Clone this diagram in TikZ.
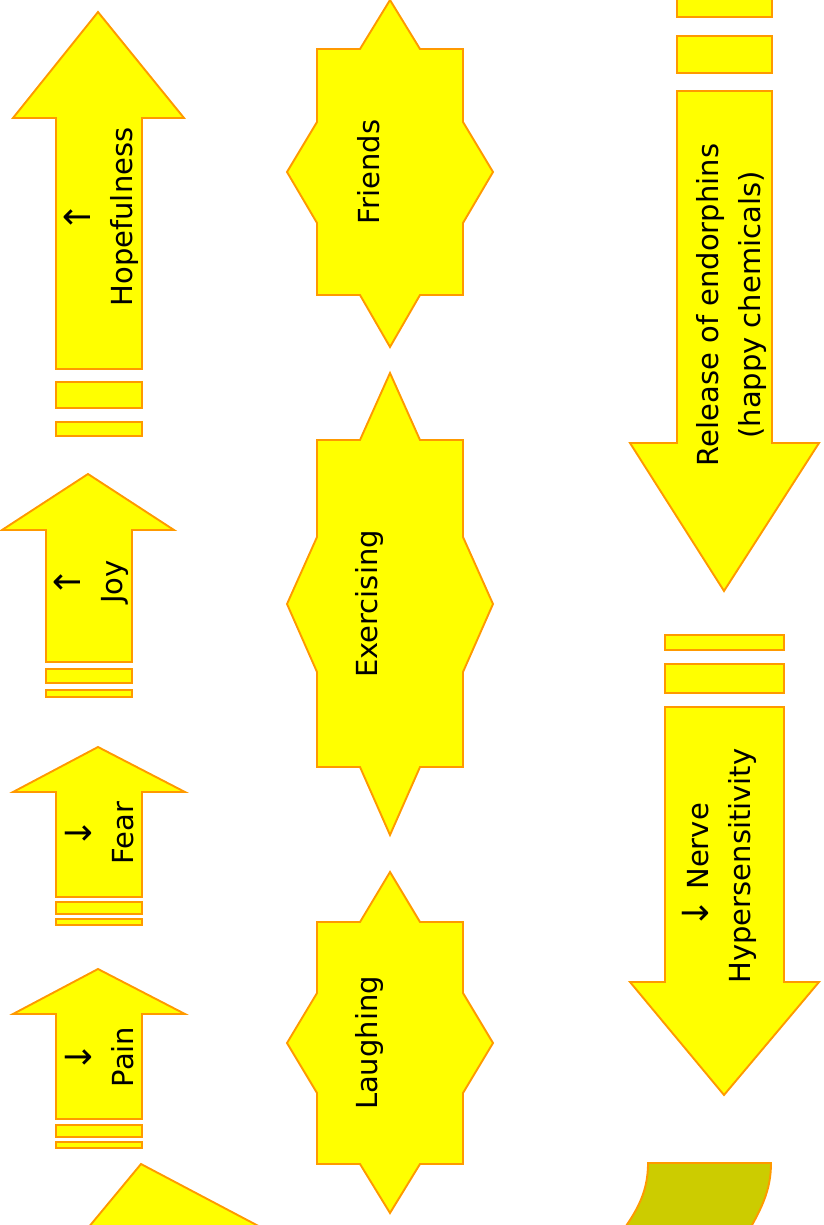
\documentclass[tikz,border=0pt]{standalone}
\usepackage{fontspec}
\setmainfont{DejaVu Sans}
\definecolor{yel}{HTML}{FFFF00}
\definecolor{org}{HTML}{FF9900}
\definecolor{olive}{HTML}{CCCC00}
\newcommand{\bigup}{{\fontsize{36}{40}\selectfont ↑}}
\newcommand{\bigdown}{{\fontsize{36}{40}\selectfont ↓}}
\tikzset{
  shp/.style={fill=yel, draw=org, line width=1.9pt, line join=miter},
  oshp/.style={fill=olive, draw=org, line width=1.9pt},
  txt/.style={rotate=90, align=center, inner sep=0pt, text=black,
    font=\fontsize{29}{42}\selectfont}
}
\begin{document}
\begin{tikzpicture}[x=1pt,y=-1pt]
\useasboundingbox (0,0) rectangle (823,1225);
% ---------- left column: up arrows ----------
% Hopefulness
\draw[shp] (98,12) -- (184,118) -- (142,118) -- (142,369) -- (56,369) -- (56,118) -- (13,118) -- cycle;
\draw[shp] (56,382) rectangle (142,408);
\draw[shp] (56,422) rectangle (142,436);
\node[txt] (hope) at (101,217) {\bigup\\Hopefulness};
% Joy
\draw[shp] (88,474) -- (174,530) -- (132,530) -- (132,662) -- (46,662) -- (46,530) -- (2,530) -- cycle;
\draw[shp] (46,669) rectangle (132,683);
\draw[shp] (46,690) rectangle (132,697);
\node[txt] (joy) at (91,582) {\bigup\\Joy};
% Fear
\draw[shp] (98,747) -- (185,792) -- (142,792) -- (142,897) -- (56,897) -- (56,792) -- (13,792) -- cycle;
\draw[shp] (56,902) rectangle (142,914);
\draw[shp] (56,919) rectangle (142,925);
\node[txt] (fear) at (100,833) {\bigdown\\Fear};
% Pain
\draw[shp] (98,969) -- (185,1014) -- (142,1014) -- (142,1119) -- (56,1119) -- (56,1014) -- (13,1014) -- cycle;
\draw[shp] (56,1125) rectangle (142,1137);
\draw[shp] (56,1142) rectangle (142,1148);
\node[txt] (pain) at (100,1057) {\bigdown\\Pain};
% partial triangle bottom left
\draw[shp] (141,1164) -- (285,1240) -- (78,1240) -- cycle;
% ---------- middle column: stars ----------
% Friends
\draw[shp] (390,0) -- (420,49) -- (463,49) -- (463,122) -- (493,172) -- (463,223) -- (463,295) -- (420,295) -- (390,347) -- (360,295) -- (317,295) -- (317,223) -- (287,172) -- (317,122) -- (317,49) -- (360,49) -- cycle;
\node[txt] (friends) at (369,172) {Friends};
% Exercising
\draw[shp] (390,373) -- (420,440) -- (463,440) -- (463,537) -- (493,604) -- (463,672) -- (463,767) -- (420,767) -- (390,835) -- (360,767) -- (317,767) -- (317,672) -- (287,604) -- (317,537) -- (317,440) -- (360,440) -- cycle;
\node[txt] (exer) at (369,604) {Exercising};
% Laughing
\draw[shp] (390,872) -- (420,922) -- (463,922) -- (463,993) -- (493,1043) -- (463,1093) -- (463,1164) -- (420,1164) -- (390,1213) -- (360,1164) -- (317,1164) -- (317,1093) -- (287,1043) -- (317,993) -- (317,922) -- (360,922) -- cycle;
\node[txt] (laugh) at (369,1043) {Laughing};
% ---------- right column: down arrows ----------
\draw[shp] (677,-10) rectangle (772,17);
\draw[shp] (677,36) rectangle (772,73);
\draw[shp] (677,91) -- (772,91) -- (772,443) -- (819,443) -- (724,591) -- (630,443) -- (677,443) -- cycle;
\node[txt] (endo) at (731,305) {Release of endorphins\\(happy chemicals)};
\draw[shp] (665,635) rectangle (784,650);
\draw[shp] (665,664) rectangle (784,693);
\draw[shp] (665,707) -- (784,707) -- (784,982) -- (819,982) -- (724,1095) -- (630,982) -- (665,982) -- cycle;
\node[txt] (nerve) at (719,866) {\bigdown{} Nerve\\Hypersensitivity};
% olive curved shape bottom right
\draw[oshp] (648,1163) -- (771,1163) .. controls (771,1190) and (762,1210) .. (740,1245) -- (612,1245) .. controls (635,1215) and (648,1195) .. cycle;
\end{tikzpicture}
\end{document}
